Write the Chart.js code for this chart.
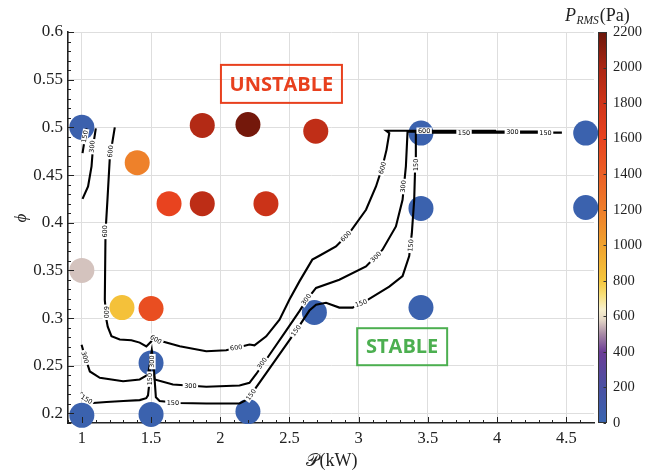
<!DOCTYPE html>
<html><head><meta charset="utf-8">
<script src="https://cdn.jsdelivr.net/npm/chart.js@4/dist/chart.umd.min.js"></script>
<style>html,body{margin:0;padding:0;background:#fff}</style>
</head><body>
<canvas id="c" width="645" height="472"></canvas>
<script>
// ---- data ----
const power = [1, 1.4, 1.63, 1.87, 1.87, 2.2, 2.33, 2.69, 1, 1.29, 1.5, 1.5, 1, 1.5, 2.2, 2.68, 3.45, 3.45, 3.45, 4.64, 4.64];
const phi   = [0.5, 0.463, 0.42, 0.42, 0.502, 0.503, 0.42, 0.496, 0.35, 0.311, 0.31, 0.253, 0.198, 0.199, 0.202, 0.306, 0.311, 0.415, 0.494, 0.494, 0.416];
const prms  = [40, 1180, 1600, 1900, 1950, 2170, 1820, 1880, 560, 830, 1520, 30, 30, 30, 30, 30, 30, 30, 30, 30, 30];

const xTicks  = [1, 1.5, 2, 2.5, 3, 3.5, 4, 4.5];
const yTicks  = [0.2, 0.25, 0.3, 0.35, 0.4, 0.45, 0.5, 0.55, 0.6];
const cbTicks = [0, 200, 400, 600, 800, 1000, 1200, 1400, 1600, 1800, 2000, 2200];

const contour150a = [[1.034,0.499],[1.020,0.487],[1.005,0.473]];
const contour150b = [[0.998,0.222],[1.009,0.216],[1.040,0.212],[1.081,0.211],[1.178,0.212],[1.300,0.213],[1.418,0.214],[1.465,0.216],[1.478,0.219],[1.490,0.235],[1.495,0.250],[1.507,0.264],[1.518,0.250],[1.526,0.235],[1.535,0.217],[1.562,0.213],[1.700,0.211],[1.899,0.2105],[2.139,0.2105],[2.199,0.215],[2.332,0.2422],[2.5,0.277],[2.572,0.2921],[2.644,0.3079],[2.692,0.3141],[2.764,0.316],[2.86,0.311],[2.956,0.311],[3.053,0.318],[3.221,0.333],[3.317,0.344],[3.365,0.365],[3.384,0.389],[3.401,0.424],[3.408,0.459],[3.413,0.4945],[3.8,0.4945],[4.468,0.4945]];
const contour300a = [[1.101,0.499],[1.081,0.480],[1.070,0.459],[1.045,0.438],[1.005,0.425]];
const contour300b = [[0.998,0.272],[1.022,0.260],[1.058,0.244],[1.13,0.2374],[1.298,0.2338],[1.418,0.2356],[1.478,0.2408],[1.490,0.250],[1.503,0.2636],[1.515,0.250],[1.526,0.2356],[1.658,0.2304],[1.899,0.228],[2.139,0.2293],[2.211,0.2321],[2.26,0.2414],[2.377,0.266],[2.476,0.2869],[2.572,0.3073],[2.62,0.3183],[2.692,0.3316],[2.86,0.3403],[3.053,0.3542],[3.172,0.3717],[3.269,0.3961],[3.317,0.4241],[3.341,0.459],[3.353,0.4955],[3.8,0.4955],[4.35,0.4955]];
const contour600 = [[1.238,0.5],[1.202,0.468],[1.185,0.424],[1.171,0.39],[1.166,0.319],[1.178,0.298],[1.187,0.291],[1.214,0.281],[1.274,0.2775],[1.358,0.2768],[1.418,0.2743],[1.466,0.2702],[1.503,0.2757],[1.526,0.2796],[1.584,0.2754],[1.707,0.2705],[1.899,0.2652],[2.043,0.2663],[2.161,0.2705],[2.211,0.2723],[2.247,0.2715],[2.332,0.2809],[2.428,0.2984],[2.5,0.3194],[2.572,0.3385],[2.665,0.3613],[2.716,0.3654],[2.836,0.3752],[2.932,0.3892],[3.053,0.4136],[3.125,0.438],[3.172,0.459],[3.201,0.4764],[3.221,0.494],[3.199,0.4965],[3.992,0.4965]];

// contour labels: [P, phi, angle]
const labels150 = [[1.022,0.4904,-80],[1.034,0.2147,30],[1.658,0.2112,0],[2.223,0.2195,-55],[2.548,0.2868,-55],[3.017,0.3155,-20],[3.377,0.3762,-85],[3.411,0.4607,-90],[3.761,0.4945,0],[4.35,0.4945,0],[1.492,0.236,-90]];
const labels300 = [[1.074,0.4799,-85],[1.022,0.2586,75],[1.784,0.2286,0],[2.303,0.2525,-55],[2.622,0.3194,-55],[3.125,0.364,-45],[3.322,0.438,-85],[4.11,0.4955,0],[1.51,0.2544,-90]];
const labels600 = [[1.207,0.4747,-85],[1.171,0.3909,-90],[1.173,0.3061,90],[1.534,0.2775,30],[2.115,0.2689,-8],[2.908,0.3857,-45],[3.172,0.4573,-75],[3.473,0.4965,0]];

const cmapStops = [[0,'#3865b0'],[200,'#4a51a3'],[400,'#6b3c96'],[500,'#a88aa6'],[580,'#e3d6c6'],[640,'#f8f0cc'],[720,'#f8e07a'],[800,'#f5c63c'],[1000,'#f0a22e'],[1200,'#ee7d2a'],[1400,'#eb5f25'],[1600,'#e8431f'],[1800,'#cf3419'],[2000,'#aa2613'],[2200,'#6b160a']];

function hex(c){return [parseInt(c.slice(1,3),16),parseInt(c.slice(3,5),16),parseInt(c.slice(5,7),16)];}
function cmap(v){
  for(let i=0;i<cmapStops.length-1;i++){
    const [a,ca]=cmapStops[i],[b,cb]=cmapStops[i+1];
    if(v<=b){const t=Math.max(0,(v-a)/(b-a));const A=hex(ca),B=hex(cb);
      return 'rgb('+A.map((x,k)=>Math.round(x+(B[k]-x)*t)).join(',')+')';}
  }
  return cmapStops[cmapStops.length-1][1];
}
const pts = (arr)=>arr.map(p=>({x:p[0],y:p[1]}));
const lineDs = (arr)=>({type:'scatter',data:pts(arr),showLine:true,borderColor:'#000',borderWidth:2.1,pointRadius:0,fill:false,tension:0});

const serif = '"Liberation Serif","DejaVu Serif",serif';
const fmt = v => String(+(+v).toFixed(3));
const setTicks = list => s => { s.ticks = list.map(v=>({value:v})); };

const overlay = {
  id:'overlay',
  afterDatasetsDraw(chart){
    const ctx=chart.ctx, xs=chart.scales.x, ys=chart.scales.y;
    ctx.save();
    ctx.font='6.5px "DejaVu Sans",sans-serif';
    ctx.textAlign='center'; ctx.textBaseline='middle';
    const draw=(list,txt)=>list.forEach(([px,py,a])=>{
      const X=xs.getPixelForValue(px),Y=ys.getPixelForValue(py);
      ctx.save();ctx.translate(X,Y);ctx.rotate(a*Math.PI/180);
      const w=ctx.measureText(txt).width;
      ctx.fillStyle='#fff';ctx.fillRect(-w/2-1.5,-3.2,w+3,6.4);
      ctx.fillStyle='#000';ctx.fillText(txt,0,0.3);ctx.restore();
    });
    draw(labels150,'150');draw(labels300,'300');draw(labels600,'600');
    const box=(txt,px,py,col,w,h)=>{
      const X=xs.getPixelForValue(px),Y=ys.getPixelForValue(py);
      ctx.font='bold 20px "Open Sans",sans-serif';
      ctx.fillStyle=col;ctx.fillText(txt,X,Y+1);
      ctx.strokeStyle=col;ctx.lineWidth=2;ctx.strokeRect(X-w/2,Y-h/2,w,h);
    };
    box('UNSTABLE',2.442,0.5456,'#e8401e',121,38);
    box('STABLE',3.314,0.27,'#4caf50',90,37);
    ctx.restore();
  },
  afterDraw(chart){
    const ctx=chart.ctx, xs=chart.scales.x, ys=chart.scales.y, cs=chart.scales.cb, ca=chart.chartArea;
    ctx.save();
    ctx.strokeStyle='#222';ctx.lineWidth=1;
    for(let i=9;i<=46;i++){const v=i/10;const X=Math.round(xs.getPixelForValue(v))+0.5;const L=(i%5===0)?6:3;
      ctx.beginPath();ctx.moveTo(X,ca.bottom);ctx.lineTo(X,ca.bottom-L);ctx.stroke();}
    for(let i=19;i<=60;i++){const v=i/100;const Y=Math.round(ys.getPixelForValue(v))+0.5;const L=(i%5===0)?6:3;
      ctx.beginPath();ctx.moveTo(ca.left,Y);ctx.lineTo(ca.left+L,Y);ctx.stroke();}
    const x0=ca.right+4,w=9,top=cs.getPixelForValue(2200),bot=cs.getPixelForValue(0);
    const g=ctx.createLinearGradient(0,bot,0,top);
    cmapStops.forEach(([v,c])=>g.addColorStop(v/2200,c));
    ctx.fillStyle=g;ctx.fillRect(x0,top,w,bot-top);
    ctx.strokeStyle='#333';ctx.lineWidth=1;ctx.strokeRect(x0+0.5,top+0.5,w-1,bot-top-1);
    cbTicks.forEach(v=>{const Y=Math.round(cs.getPixelForValue(v))+0.5;ctx.beginPath();ctx.moveTo(x0+w-1,Y);ctx.lineTo(x0+w-3.5,Y);ctx.stroke();});
    ctx.fillStyle='#222';ctx.textBaseline='alphabetic';ctx.textAlign='left';
    const f1='18px "DejaVu Serif","DejaVu Sans","Noto Sans",serif', f2='18px '+serif;
    ctx.font=f1;const wP=ctx.measureText('𝒫').width;ctx.font=f2;const wK=ctx.measureText('(kW)').width;
    let sx=(ca.left+ca.right)/2-(wP+wK)/2;
    ctx.font=f1;ctx.fillText('𝒫',sx,466);ctx.font=f2;ctx.fillText('(kW)',sx+wP+1,466);
    ctx.save();ctx.translate(26,218);ctx.rotate(-Math.PI/2);ctx.textAlign='center';
    ctx.font='italic 17px '+serif;ctx.fillText('ϕ',0,0);ctx.restore();
    let cx=565;
    ctx.font='italic 18px '+serif;ctx.fillText('P',cx,21);cx+=ctx.measureText('P').width+0.5;
    ctx.font='italic 11.5px '+serif;ctx.fillText('RMS',cx,24);cx+=ctx.measureText('RMS').width+1;
    ctx.font='18px '+serif;ctx.fillText('(Pa)',cx,21);
    ctx.restore();
  }
};

new Chart(document.getElementById('c'),{
  data:{datasets:[
    lineDs(contour150a),lineDs(contour150b),lineDs(contour300a),lineDs(contour300b),lineDs(contour600),
    {type:'scatter',data:power.map((p,i)=>({x:p,y:phi[i]})),pointRadius:12.5,pointHoverRadius:12.5,clip:false,
     pointBackgroundColor:prms.map(cmap),pointBorderColor:prms.map(cmap),pointBorderWidth:0}
  ]},
  options:{
    responsive:false,animation:false,devicePixelRatio:1,
    layout:{padding:{top:32,left:0,right:0,bottom:0}},
    plugins:{legend:{display:false},tooltip:{enabled:false}},
    scales:{
      x:{type:'linear',position:'bottom',min:0.9,max:4.7,afterBuildTicks:setTicks(xTicks),
        ticks:{padding:6,color:'#222',maxRotation:0,autoSkip:false,font:{family:serif,size:16.5},callback:fmt},
        grid:{color:'#dedede',lineWidth:1,drawTicks:false},border:{display:true,color:'#222',width:1.6},
        afterFit:s=>{s.height=49;}},
      y:{type:'linear',position:'left',min:0.19,max:0.6,afterBuildTicks:setTicks(yTicks),
        ticks:{padding:5,color:'#222',font:{family:serif,size:17},callback:fmt},
        grid:{color:'#dedede',lineWidth:1,drawTicks:false},border:{display:true,color:'#222',width:1.6},
        afterFit:s=>{s.width=68;}},
      cb:{type:'linear',position:'right',min:0,max:2200,afterBuildTicks:setTicks(cbTicks),
        ticks:{padding:19,color:'#222',font:{family:serif,size:14.5},callback:fmt},
        grid:{drawOnChartArea:false,drawTicks:false},border:{display:false},
        afterFit:s=>{s.width=51;}}
    }
  },
  plugins:[overlay]
});
</script>
</body></html>
